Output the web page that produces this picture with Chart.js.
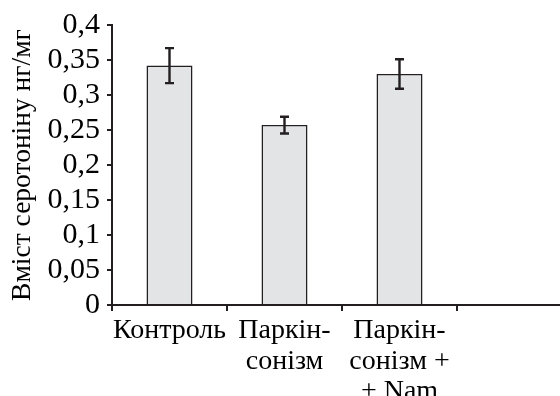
<!DOCTYPE html>
<html><head><meta charset="utf-8">
<script src="https://cdn.jsdelivr.net/npm/chart.js@4/dist/chart.umd.min.js"></script>
<style>
html,body{margin:0;padding:0;background:#fff;overflow:hidden;width:560px;height:396px;}
#wrap{width:572px;height:396px;position:relative;}
</style></head>
<body><div id="wrap"><canvas id="c" width="572" height="396"></canvas></div>
<script>
const categories = ["Контроль", ["Паркін-", "сонізм"], ["Паркін-", "сонізм +", "+ Nam"], ""];
const values = [0.342, 0.257, 0.330, null];
const errors = [0.025, 0.012, 0.021, null];
const yTicks = [0, 0.05, 0.1, 0.15, 0.2, 0.25, 0.3, 0.35, 0.4];
const yTitle = "Вміст серотоніну нг/мг";

const dark = '#231f20';
const font = "'Liberation Serif', 'Times New Roman', serif";

const errorBars = {
  id: 'errorBars',
  afterDatasetsDraw(chart) {
    const ctx = chart.ctx, meta = chart.getDatasetMeta(0), y = chart.scales.y;
    ctx.save();
    ctx.strokeStyle = dark; ctx.lineWidth = 2.4;
    meta.data.forEach((bar, i) => {
      if (values[i] == null) return;
      const x = bar.x;
      const top = y.getPixelForValue(values[i] + errors[i]);
      const bot = y.getPixelForValue(values[i] - errors[i]);
      ctx.beginPath();
      ctx.moveTo(x, top); ctx.lineTo(x, bot);
      ctx.moveTo(x - 4.5, top); ctx.lineTo(x + 4.5, top);
      ctx.moveTo(x - 4.5, bot); ctx.lineTo(x + 4.5, bot);
      ctx.stroke();
    });
    ctx.restore();
  }
};

new Chart(document.getElementById('c'), {
  type: 'bar',
  data: {
    labels: categories,
    datasets: [{
      data: values,
      backgroundColor: '#e3e4e6',
      borderColor: dark,
      borderWidth: 1.5,
      barPercentage: 0.4,
      categoryPercentage: 1.0
    }]
  },
  options: {
    responsive: false,
    animation: false,
    layout: { padding: { top: 25, left: 0, right: 0, bottom: 0 } },
    plugins: { legend: { display: false }, tooltip: { enabled: false } },
    scales: {
      x: {
        grid: { offset: true, drawOnChartArea: false, drawTicks: true, tickLength: 6, color: dark, lineWidth: 2 },
        border: { display: true, color: dark, width: 2 },
        ticks: { color: '#000', font: { family: font, size: 28, lineHeight: 1.08 }, padding: 5, maxRotation: 0, autoSkip: false },
        afterFit(scale) { scale.height = 91; }
      },
      y: {
        min: 0, max: 0.4,
        afterBuildTicks(scale) { scale.ticks = yTicks.map(v => ({ value: v })); },
        grid: { drawOnChartArea: false, drawTicks: true, tickLength: 5, color: dark, lineWidth: 2 },
        border: { display: true, color: dark, width: 2 },
        ticks: {
          color: '#000', font: { family: font, size: 30, lineHeight: 1 }, padding: 7, autoSkip: false,
          callback: v => String(v).replace('.', ',')
        },
        title: { display: true, text: yTitle, color: '#000', font: { family: font, size: 27.5 }, padding: { top: 6, bottom: 0 } },
        afterFit(scale) { scale.width = 112; }
      }
    }
  },
  plugins: [errorBars]
});
</script></body></html>
